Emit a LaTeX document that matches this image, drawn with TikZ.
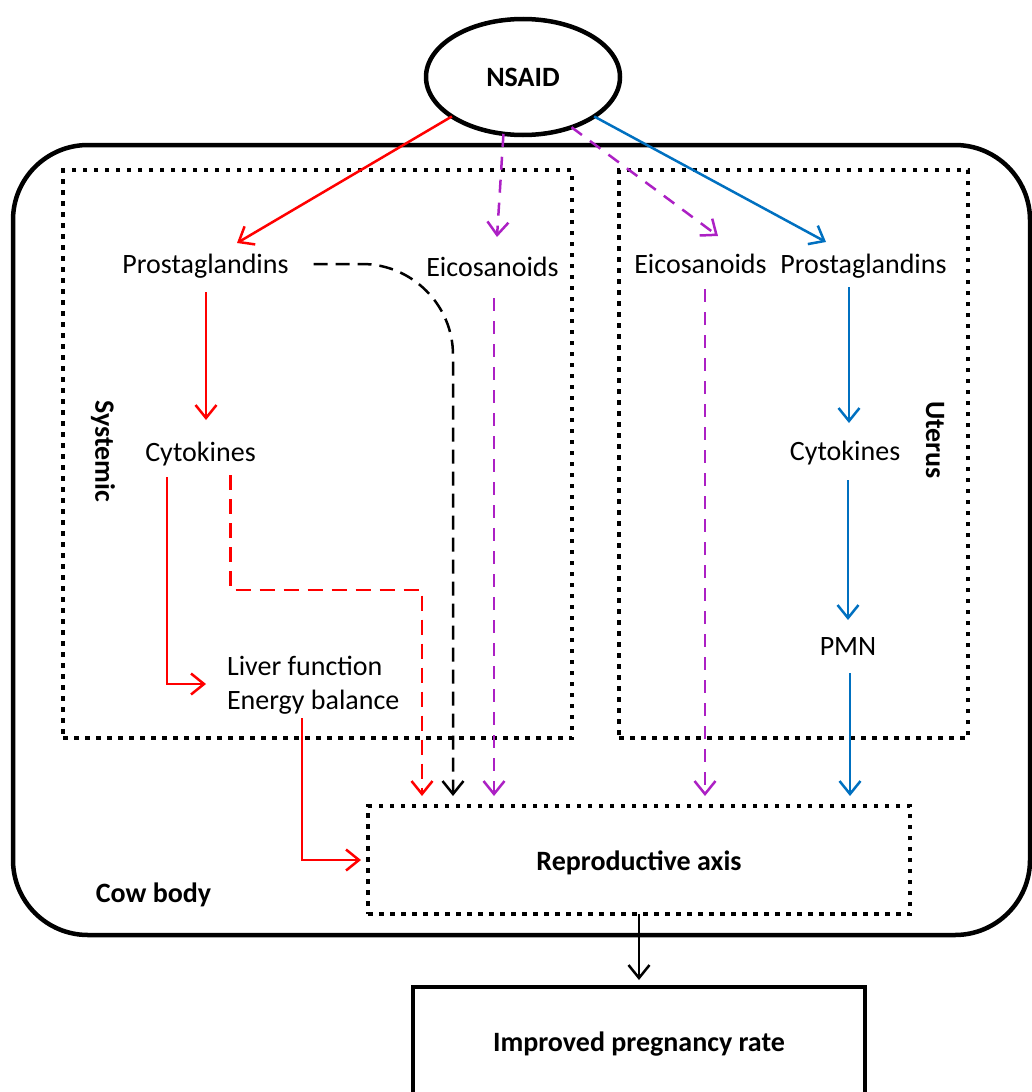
\documentclass[tikz,border=0pt]{standalone}
\usepackage{fontspec}
\setmainfont{Carlito}
\usetikzlibrary{arrows.meta,shapes.geometric,calc}
\definecolor{myred}{RGB}{255,0,0}
\definecolor{mypurple}{RGB}{172,32,196}
\definecolor{myblue}{RGB}{0,112,192}
\begin{document}
\begin{tikzpicture}[x=1pt,y=-1pt,
  font=\fontsize{28}{34}\selectfont,
  every node/.style={inner sep=0pt, outer sep=0pt},
  txt/.style={anchor=base},
  boldtxt/.style={font=\fontsize{28}{34}\selectfont\bfseries},
  dotbox/.style={draw, line width=4.5pt, dash pattern=on 4.5pt off 6.5pt},
  solidbox/.style={draw, line width=4.5pt},
  arr/.style={line width=2.5pt, -{Straight Barb[length=13pt,width=21pt,line width=2.5pt]}},
  rarr/.style={arr, draw=myred},
  rdash/.style={arr, draw=myred, dash pattern=on 15pt off 9pt},
  parr/.style={arr, draw=mypurple, dash pattern=on 13pt off 10pt},
  barr/.style={arr, draw=myblue},
  karr/.style={arr, draw=black},
  kdash/.style={arr, draw=black, dash pattern=on 14pt off 8pt},
]
\useasboundingbox (0,0) rectangle (1032,1092);
\clip (0,0) rectangle (1032,1092);

% containers
\node[solidbox, rounded corners=75pt, minimum width=1017pt, minimum height=790pt] (cow) at (521.5,540) {};
\node[dotbox, minimum width=509pt, minimum height=568pt] (sysbox) at (317.5,454) {};
\node[dotbox, minimum width=349pt, minimum height=568pt] (utbox) at (793.5,454) {};
\node[dotbox, minimum width=542pt, minimum height=108pt] (repro) at (639,860) {};
\node[solidbox, minimum width=452pt, minimum height=112pt] (preg) at (639,1043) {};
\node[draw, ellipse, line width=4.5pt, minimum width=194pt, minimum height=116pt, boldtxt] (nsaid) at (523,77) {NSAID};

% labels
\node[boldtxt, rotate=-90] (sys) at (103,451) {Systemic};
\node[boldtxt, rotate=-90] (ut) at (935,440) {Uterus};
\node[boldtxt, txt] (cowlbl) at (153.5,902) {Cow body};
\node[boldtxt, txt] (reprolbl) at (639,870) {Reproductive axis};
\node[boldtxt, txt] (preglbl) at (639,1051) {Improved pregnancy rate};

% text nodes
\node[txt] (pgL) at (205.5,273) {Prostaglandins};
\node[txt] (eiL) at (492.5,276) {Eicosanoids};
\node[txt] (eiR) at (700.5,273) {Eicosanoids};
\node[txt] (pgR) at (863.5,273) {Prostaglandins};
\node[txt] (cyL) at (200.5,461) {Cytokines};
\node[txt] (cyR) at (845,460) {Cytokines};
\node[anchor=base west] (liv1) at (227,675) {Liver function};
\node[anchor=base west] (liv2) at (227,709) {Energy balance};
\node[txt] (pmn) at (848,655) {PMN};

% arrows from NSAID
\draw[rarr] (nsaid.209.5) -- ($(pgL.base)+(31.5,-30)$);
\draw[parr] (nsaid.251.6) -- ($(eiL.base)+(4.5,-39)$);
\draw[parr] (nsaid.314.4) -- ($(eiR.base)+(17.5,-37)$);
\draw[barr] (nsaid.331.5) -- ($(pgR.base)+(-37.5,-31)$);

% systemic
\draw[rarr] ($(pgL.base)+(0.5,19)$) -- ($(cyL.base)+(5.5,-41)$);
\draw[rarr] ($(cyL.base)+(-33.5,16)$) |- ($(liv1.base west)+(-21,9)$);
\draw[rdash] ($(cyL.base)+(30,14)$) -- ++(0,115) -| ($(repro.north west)+(54,-10)$);
\draw[kdash] ($(pgL.base)+(108,-9)$) -- (362,264) .. controls (412,264) and (453,305) .. (453,355) -- ($(repro.north west)+(85,-10)$);
\draw[parr] ($(eiL.base)+(1.5,22)$) -- ($(repro.north west)+(126,-10)$);
\draw[rarr] ($(liv2.base west)+(75,9)$) |- ($(repro.west)+(-7,0)$);

% uterus
\draw[parr] ($(eiR.base)+(4.5,16)$) -- ($(repro.north west)+(337,-10)$);
\draw[barr] ($(pgR.base)+(-14.5,14)$) -- ($(cyR.base)+(4,-37)$);
\draw[barr] ($(cyR.base)+(3,20)$) -- ($(pmn.base)+(0,-35)$);
\draw[barr] ($(pmn.base)+(2,18)$) -- ($(repro.north east)+(-60,-10)$);

% output
\draw[karr] (repro.south) -- ($(preg.north)+(0,-7)$);
\end{tikzpicture}
\end{document}
